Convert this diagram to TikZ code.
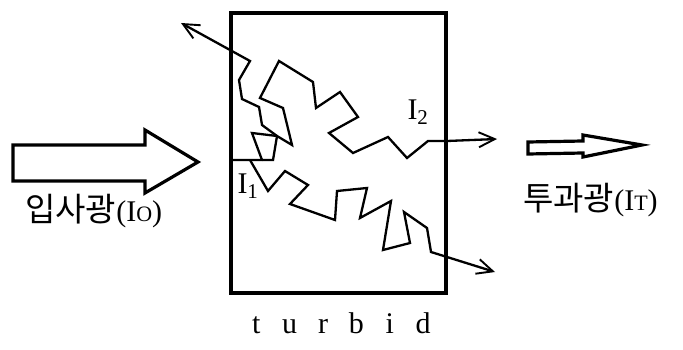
\documentclass[tikz,border=0pt]{standalone}
\usepackage{fontspec}
\setmainfont{Liberation Serif}
\newfontfamily\kr{Noto Sans CJK KR}
\usetikzlibrary{arrows.meta}

\begin{document}
\begin{tikzpicture}[x=1pt,y=-1pt,
  cellbox/.style={draw, line width=3.2pt, inner sep=0pt,
    minimum width=215pt, minimum height=280pt},
  ray/.style={line width=2.3pt, line join=miter, line cap=round},
  rayout/.style={ray, -{Straight Barb[length=16pt,width=15pt,line width=1.9pt]}},
  blockarrow/.style={draw, line width=3.2pt, fill=white, line join=miter},
  label/.style={inner sep=0pt, font=\fontsize{30}{34}\selectfont},
  caption/.style={inner sep=0pt, font=\fontsize{30}{34}\selectfont, anchor=base west},
  korean/.style={font=\kr\fontsize{33}{36}\selectfont},
]
\useasboundingbox (0,0) rectangle (683,350);

% turbid cell
\node[cellbox] (cell) at (338.5,153) {};

% incident beam (large block arrow)
\draw[blockarrow] (13,145) -- (145,145) -- (145,130) -- (198,162)
  -- (145,193) -- (145,181) -- (13,181) -- cycle;
\coordinate (incident) at (198,162);

% transmitted beam (small block arrow)
\draw[blockarrow] (528,142) -- (583,141) -- (583,135) -- (642,145)
  -- (583,157) -- (583,153) -- (528,154) -- cycle;
\coordinate (transmitted) at (642,145);

% scattered light paths inside the cell
\coordinate (entry) at (232,160);
\coordinate (split) at (273,160);
\coordinate (knot) at (277,136);
\coordinate (low) at (250,160);

% entering ray and the small loop near the entry
\draw[ray] (entry) -- (split) -- (knot);
\draw[ray] (262,160) -- (252,133) -- (knot);

% ray leaving through the upper left
\draw[rayout] (knot) -- (262,125) -- (259,107) -- (242,99) -- (239,80)
  -- (250,61) -- (181,23);

% ray I2, leaving through the right wall
\draw[rayout] (knot) -- (292,145) -- (283,108) -- (260,98) -- (279,61)
  -- (313,82) -- (316,108) -- (340,92) -- (358,117) -- (329,133)
  -- (353,153) -- (388,137) -- (407,158) -- (428,141) -- (447,141)
  -- (497,139);

% ray I1, leaving through the lower right
\draw[rayout] (low) -- (268,191) -- (285,171) -- (308,185) -- (290,204)
  -- (335,220) -- (337,191) -- (367,188) -- (360,218) -- (391,201)
  -- (383,250) -- (410,243) -- (404,212) -- (427,228) -- (431,252)
  -- (495,272);

% ray labels
\node[label] (i1) at (248,186) {I\textsubscript{1}};
\node[label] (i2) at (418,112) {I\textsubscript{2}};

% captions
\node[caption] (incap) at (25,222)
  {\tikz[baseline]\node[korean,inner sep=0pt,anchor=base]{입사광};%
   (I{\fontsize{22}{22}\selectfont O})};
\node[caption] (outcap) at (523,210)
  {\tikz[baseline]\node[korean,inner sep=0pt,anchor=base]{투과광};%
   (I{\fontsize{22}{22}\selectfont T})};
\node[inner sep=0pt, anchor=base, font=\fontsize{30}{32}\selectfont] (turbid)
  at (339.7,333)
  {\makebox[33.4pt]{t}\makebox[33.4pt]{u}\makebox[33.4pt]{r}%
   \makebox[33.4pt]{b}\makebox[33.4pt]{i}\makebox[33.4pt]{d}};
\end{tikzpicture}
\end{document}
